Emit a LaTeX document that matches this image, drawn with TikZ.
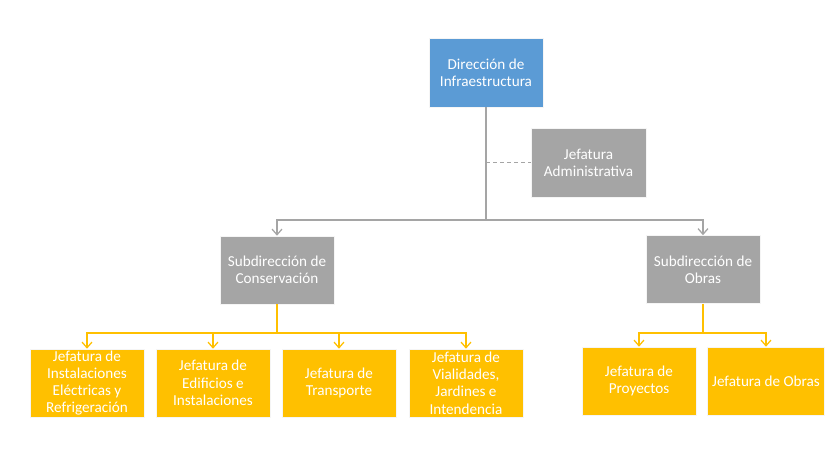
\documentclass[tikz,border=0pt]{standalone}
\usepackage{fontspec}
\setmainfont{Carlito}
\usepackage{tikz}
\usetikzlibrary{arrows.meta,positioning}
\usepackage{xcolor}
\definecolor{azul}{HTML}{5B9BD5}
\definecolor{gris}{HTML}{A5A5A5}
\definecolor{amarillo}{HTML}{FFC000}

\begin{document}
\begin{tikzpicture}[x=1cm, y=1cm]

    \tikzstyle{caja} = [
        rectangle,
        draw=white!60!black!10,
        line width=0.4pt,
        text=white,
        align=center,
        inner ysep=0.5pt,
        minimum width=2.85cm,
        minimum height=1.7cm,
        font=\fontsize{10.8}{12.3}\selectfont
    ]
    \tikzstyle{direc} = [caja, fill=azul, minimum height=1.725cm]
    \tikzstyle{sub} = [caja, fill=gris]
    \tikzstyle{jef} = [caja, fill=amarillo]
    \tikzstyle{glinea} = [
        draw=gris,
        line width=0.9pt,
    ]
    \tikzstyle{gflecha} = [
        glinea,
        -{Straight Barb[length=4pt,width=7pt]},
    ]
    \tikzstyle{yflecha} = [
        draw=amarillo,
        line width=0.9pt,
        -{Straight Barb[length=4pt,width=7pt]},
    ]

    \useasboundingbox (0,0) rectangle (21,-11.8);

    \node [direc] (dir) at (12.15,-1.8125) {Dirección de\\Infraestructura};
    \node [sub, minimum width=2.875cm, minimum height=1.725cm] (adm) at (14.7125,-4.0625) {Jefatura\\Administrativa};

    \node [sub] (cons) at (6.925,-6.75) {Subdirección de\\Conservación};
    \node [sub] (obr) at (17.575,-6.7375) {Subdirección de\\Obras};

    \node [jef] (ele) at (2.175,-9.575) {Jefatura de\\Instalaciones\\Eléctricas y\\Refrigeración};
    \node [jef] (edi) at (5.325,-9.575) {Jefatura de\\Edificios e\\Instalaciones};
    \node [jef] (tra) at (8.475,-9.575) {Jefatura de\\Transporte};
    \node [jef] (via) at (11.65,-9.575) {Jefatura de\\Vialidades,\\Jardines e\\Intendencia};

    \node [jef] (pro) at (15.975,-9.525) {Jefatura de\\Proyectos};
    \node [jef] (job) at (19.15,-9.525) {Jefatura de Obras};

    % direccion
    \coordinate (bus) at (12.15,-5.5);
    \draw [glinea] (dir) -- (bus);
    \draw [glinea, densely dashed, line width=0.5pt] (dir.south |- adm.west) -- (adm.west);
    \draw [gflecha] (bus) -| (cons.north);
    \draw [gflecha] (bus) -| (obr.north);

    % conservacion
    \coordinate (ybus) at (6.925,-8.325);
    \draw [draw=amarillo, line width=0.9pt] (cons) -- (ybus);
    \foreach \n in {ele,edi,tra,via}
        \draw [yflecha] (ybus) -| (\n.north);

    % obras
    \coordinate (obus) at (17.575,-8.325);
    \draw [draw=amarillo, line width=0.9pt] (obr) -- (obus);
    \foreach \n in {pro,job}
        \draw [yflecha] (obus) -| (\n.north);

\end{tikzpicture}
\end{document}
